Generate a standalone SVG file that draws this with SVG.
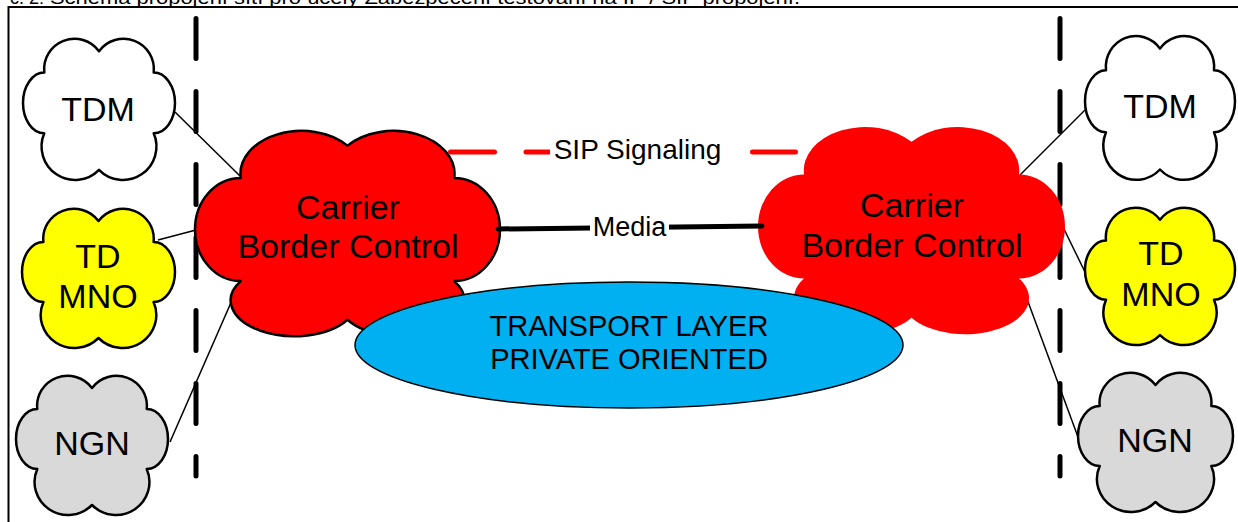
<svg xmlns="http://www.w3.org/2000/svg" width="1238" height="522" viewBox="0 0 1238 522">
<style>
text{font-family:"Liberation Sans",Arial,sans-serif;fill:#000}
.cl{stroke:#000;stroke-width:2.5;stroke-linejoin:round;vector-effect:non-scaling-stroke}
.lbl{font-size:34px;text-anchor:middle}
.thin{stroke:#000;stroke-width:1.5;fill:none}
.bar{stroke:#000;stroke-width:5;stroke-linecap:round;stroke-dasharray:40 33;fill:none}
</style>
<rect x="8.5" y="7" width="1240" height="530" fill="none" stroke="#000" stroke-width="2"/>
<text x="50" y="3.5" font-size="18" textLength="750" lengthAdjust="spacingAndGlyphs">Schéma propojení sítí pro účely Zabezpečení testování na IP / SIP propojení.</text>
<text x="44" y="3.5" font-size="18" text-anchor="end">č. 2:</text>
<g id="boundaries">
<line class="bar" x1="196" y1="18.5" x2="196" y2="476"/>
<line class="bar" x1="1060" y1="18.5" x2="1060" y2="476"/>
</g>
<g id="connectors">
<line class="thin" x1="175" y1="112" x2="240" y2="176"/>
<line class="thin" x1="158" y1="240" x2="196" y2="230"/>
<line class="thin" x1="170" y1="442" x2="240" y2="282"/>
<line class="thin" x1="1020" y1="175" x2="1085" y2="110"/>
<line class="thin" x1="1063" y1="227" x2="1085" y2="272"/>
<line class="thin" x1="1020" y1="280" x2="1078" y2="437"/>
</g>
<g id="tdm-left"><path class="cl" fill="#FFFFFF" d="M14,26 A20,20 0 0 1 50,12 A20,20 0 0 1 86,26 A14,20 0 0 1 86,66 A22,22 0 0 1 50,90 A22,22 0 0 1 14,66 A14,20 0 0 1 14,26 Z" transform="translate(23,33) scale(1.52,1.52)"/><text class="lbl" x="98" y="121">TDM</text></g>
<g id="tdmno-left"><path class="cl" fill="#FFFF00" d="M14,26 A20,20 0 0 1 50,12 A20,20 0 0 1 86,26 A14,20 0 0 1 86,66 A22,22 0 0 1 50,90 A22,22 0 0 1 14,66 A14,20 0 0 1 14,26 Z" transform="translate(22,203) scale(1.53,1.5)"/><text class="lbl" x="98" y="268">TD</text><text class="lbl" x="98" y="308">MNO</text></g>
<g id="ngn-left"><path class="cl" fill="#D9D9D9" d="M14,26 A20,20 0 0 1 50,12 A20,20 0 0 1 86,26 A14,20 0 0 1 86,66 A22,22 0 0 1 50,90 A22,22 0 0 1 14,66 A14,20 0 0 1 14,26 Z" transform="translate(16,370) scale(1.52,1.5)"/><text class="lbl" x="92" y="455">NGN</text></g>
<g id="tdm-right"><path class="cl" fill="#FFFFFF" d="M14,26 A20,20 0 0 1 50,12 A20,20 0 0 1 86,26 A14,20 0 0 1 86,66 A22,22 0 0 1 50,90 A22,22 0 0 1 14,66 A14,20 0 0 1 14,26 Z" transform="translate(1085,30) scale(1.5,1.55)"/><text class="lbl" x="1160" y="118">TDM</text></g>
<g id="tdmno-right"><path class="cl" fill="#FFFF00" d="M14,26 A20,20 0 0 1 50,12 A20,20 0 0 1 86,26 A14,20 0 0 1 86,66 A22,22 0 0 1 50,90 A22,22 0 0 1 14,66 A14,20 0 0 1 14,26 Z" transform="translate(1085,202) scale(1.5,1.48)"/><text class="lbl" x="1161" y="265">TD</text><text class="lbl" x="1161" y="306">MNO</text></g>
<g id="ngn-right"><path class="cl" fill="#D9D9D9" d="M14,26 A20,20 0 0 1 50,12 A20,20 0 0 1 86,26 A14,20 0 0 1 86,66 A22,22 0 0 1 50,90 A22,22 0 0 1 14,66 A14,20 0 0 1 14,26 Z" transform="translate(1078,367) scale(1.55,1.5)"/><text class="lbl" x="1155" y="452">NGN</text></g>
<g id="cbc-left"><path class="cl" fill="#FF0000" d="M15,26 A20,20 0 0 1 50,11 A20,20 0 0 1 85,26 A15,24 0 0 1 85,74 A20,16 0 0 1 50,92 A20,16 0 0 1 15,74 A15,24 0 0 1 15,26 Z" transform="translate(195,122) scale(3.05,2.15)"/><text class="lbl" x="348" y="219">Carrier</text><text class="lbl" x="348" y="258">Border Control</text></g>
<g id="cbc-right"><path fill="#FF0000" d="M15,26 A20,20 0 0 1 50,11 A20,20 0 0 1 85,26 A15,24 0 0 1 85,74 A20,16 0 0 1 50,92 A20,16 0 0 1 15,74 A15,24 0 0 1 15,26 Z" transform="translate(758,118) scale(3.07,2.17)"/><text class="lbl" x="912" y="217">Carrier</text><text class="lbl" x="912" y="257">Border Control</text></g>
<g id="transport"><ellipse cx="629" cy="345" rx="274" ry="63" fill="#00B0F0" stroke="#000" stroke-width="1.5"/><text x="629" y="336" font-size="29" text-anchor="middle">TRANSPORT LAYER</text><text x="629" y="369" font-size="29" text-anchor="middle">PRIVATE ORIENTED</text></g>
<g id="links">
<line x1="450.5" y1="152" x2="795.5" y2="152" stroke="#FF0000" stroke-width="5" stroke-linecap="round" stroke-dasharray="44 31.5"/>
<rect x="550" y="137" width="176" height="28" fill="#FFFFFF"/>
<text x="637.5" y="159" font-size="28" text-anchor="middle">SIP Signaling</text>
<line x1="498" y1="229" x2="762" y2="226" stroke="#000" stroke-width="5" stroke-linecap="round"/>
<rect x="590" y="213" width="79" height="27" fill="#FFFFFF"/>
<text x="629.5" y="236" font-size="27" text-anchor="middle">Media</text>
</g>
</svg>
